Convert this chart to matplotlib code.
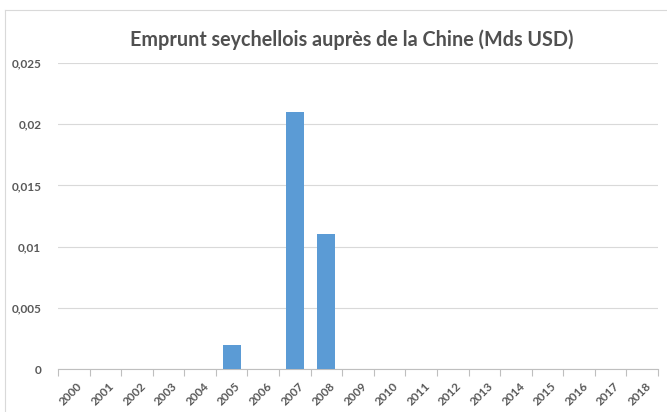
import matplotlib
matplotlib.use("Agg")
import matplotlib.pyplot as plt
import numpy as np
from matplotlib.ticker import FuncFormatter, FixedLocator

years = [str(y) for y in range(2000, 2019)]
values = [0, 0, 0, 0, 0, 0.002, 0, 0.021, 0.011, 0, 0, 0, 0, 0, 0, 0, 0, 0, 0]
yticks = [0, 0.005, 0.01, 0.015, 0.02, 0.025]
title = "Emprunt seychellois auprès de la Chine (Mds USD)"

plt.rcParams['font.family'] = ['Lato', 'DejaVu Sans']
fig = plt.figure(figsize=(6.67, 4.12), dpi=100)
ax = fig.add_axes([58/667, 1-369/412, 600/667, (369-63)/412])

x = np.arange(len(years))
ax.bar(x, values, width=0.57, color='#5B9BD5', zorder=3)
ax.set_xlim(-0.5, len(years)-0.5)
ax.set_ylim(0, 0.025)
ax.set_yticks(yticks)
ax.yaxis.set_major_formatter(FuncFormatter(lambda v, p: '0' if v == 0 else ('%g' % v).replace('.', ',')))
ax.grid(axis='y', color='#D9D9D9', linewidth=0.8, zorder=0)
for s in ['top', 'right', 'left']:
    ax.spines[s].set_visible(False)
ax.spines['bottom'].set_color('#BFBFBF')
ax.spines['bottom'].set_linewidth(0.8)
ax.tick_params(axis='y', length=0, pad=12, labelsize=8.5)
for lbl in ax.get_yticklabels():
    lbl.set_color('#595959')
    lbl.set_fontweight('bold')
ax.set_xticks(x)
ax.set_xticklabels(years, rotation=45, ha='right', rotation_mode='anchor')
ax.tick_params(axis='x', which='major', length=0, labelsize=8.5, pad=8)
for lbl in ax.get_xticklabels():
    lbl.set_color('#595959')
    lbl.set_fontweight('bold')
ax.xaxis.set_minor_locator(FixedLocator(np.arange(-0.5, len(years), 1.0)))
ax.tick_params(axis='x', which='minor', length=5, color='#BFBFBF', width=0.8)
for lbl in ax.get_xticklabels():
    lbl.set_transform(lbl.get_transform() + matplotlib.transforms.ScaledTranslation(3/100, 0, fig.dpi_scale_trans))

fig.text(352/667, 1-40/412, title, ha='center', va='center', fontsize=14.2, fontweight='bold', color='#505050')

# chart border (top and left)
fig.add_artist(plt.Line2D([5/667, 1], [1-10/412, 1-10/412], color='#D9D9D9', linewidth=0.8, transform=fig.transFigure))
fig.add_artist(plt.Line2D([5/667, 5/667], [0, 1-10/412], color='#D9D9D9', linewidth=0.8, transform=fig.transFigure))

fig.savefig('out.png', dpi=100)
